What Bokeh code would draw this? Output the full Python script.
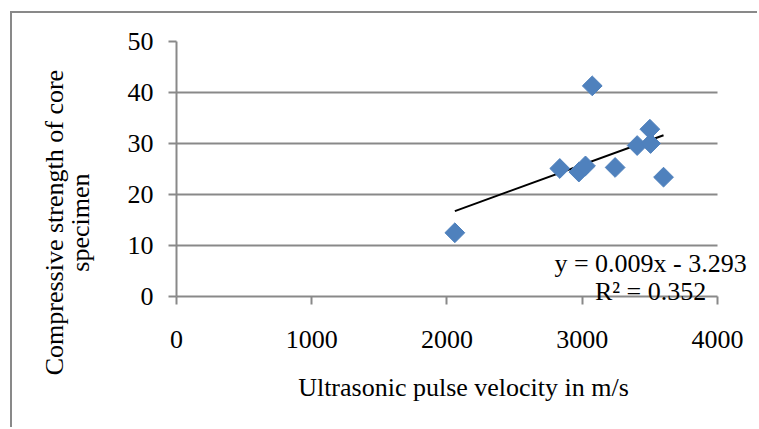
import math
import numpy as np
from bokeh.plotting import figure
from bokeh.models import Label, FixedTicker, Range1d
from bokeh.embed import file_html
from bokeh.resources import INLINE

# data
velocity = [3074, 3500, 3406, 3505, 2834, 2975, 3024, 3243, 3601, 2058]
strength = [41.3, 32.8, 29.6, 30.0, 25.1, 24.4, 25.6, 25.3, 23.4, 12.5]
x_ticks = [0, 1000, 2000, 3000, 4000]
y_ticks = [0, 10, 20, 30, 40, 50]
equation = "y = 0.009x - 3.293"
r2_text = "R² = 0.352"
x_title = "Ultrasonic pulse velocity in m/s"
y_title_1 = "Compressive strength of core"
y_title_2 = "specimen"

FONT = "Liberation Serif"
GRAY = "#898989"
BLUE = "#4F81BD"

# axes span 0..4000 and 0..50; the frame is a little larger so that the
# trendline equation (which overhangs the axes) is not clipped
p = figure(width=747, height=416, output_backend="svg", toolbar_location=None,
           x_range=Range1d(0, 4244), y_range=Range1d(-2.353, 50),
           min_border_left=164, min_border_right=9, min_border_top=28, min_border_bottom=121)
p.styles = {"margin-left": "12px", "margin-top": "13px",
            "box-shadow": "-2px -2px 0 0 " + GRAY}
p.outline_line_color = None
p.background_fill_color = "white"
p.border_fill_color = "white"

p.xgrid.visible = False
p.ygrid.ticker = FixedTicker(ticks=y_ticks)
p.ygrid.grid_line_color = GRAY
p.ygrid.grid_line_width = 2
p.ygrid.cross_bounds = (0, 4000)

for ax in (p.xaxis[0], p.yaxis[0]):
    ax.axis_line_color = GRAY
    ax.axis_line_width = 2
    ax.major_tick_line_color = GRAY
    ax.major_tick_line_width = 2
    ax.minor_tick_line_color = None
    ax.major_label_text_font = FONT
    ax.major_label_text_font_size = "26px"
    ax.major_label_text_color = "black"

p.xaxis.ticker = FixedTicker(ticks=x_ticks)
p.yaxis.ticker = FixedTicker(ticks=y_ticks)
p.xaxis.bounds = (0, 4000)
p.yaxis.bounds = (0, 50)

# y axis: ticks pointing outwards
p.yaxis.major_tick_out = 8
p.yaxis.major_tick_in = 0
p.yaxis.major_label_standoff = 15

# x axis sits at the frame bottom; its line is the y=0 grid line,
# ticks drawn from y=0 downwards
p.xaxis.axis_line_color = None
p.xaxis.major_tick_in = 12
p.xaxis.major_tick_out = -4
p.xaxis.major_label_standoff = 22

p.xaxis.axis_label = x_title
p.xaxis.axis_label_text_font = FONT
p.xaxis.axis_label_text_font_size = "26px"
p.xaxis.axis_label_text_font_style = "normal"
p.xaxis.axis_label_text_color = "black"
p.xaxis.axis_label_standoff = 22

# trendline (least squares)
slope, intercept = np.polyfit(velocity, strength, 1)
xs = [min(velocity), max(velocity)]
ys = [slope * v + intercept for v in xs]
p.line(xs, ys, line_color="black", line_width=2)

p.scatter(velocity, strength, marker="square", size=14, angle=math.pi / 4,
          fill_color=BLUE, line_color=BLUE)

p.add_layout(Label(x=3505, y=6.4, text=equation, text_align="center",
                   text_baseline="alphabetic", text_font=FONT,
                   text_font_size="26px", text_color="black"))
p.add_layout(Label(x=3505, y=0.96, text=r2_text, text_align="center",
                   text_baseline="alphabetic", text_font=FONT,
                   text_font_size="26px", text_color="black"))

yt2 = Label(x=-709, y=14.5, angle=math.pi / 2, text=y_title_2,
            text_align="center", text_baseline="alphabetic",
            text_font=FONT, text_font_size="26px", text_color="black")
yt1 = Label(x=-901, y=14.5, angle=math.pi / 2, text=y_title_1,
            text_align="center", text_baseline="alphabetic",
            text_font=FONT, text_font_size="26px", text_color="black")
p.add_layout(yt2, "left")
p.add_layout(yt1, "left")

open("out.html", "w").write(file_html(p, INLINE))
